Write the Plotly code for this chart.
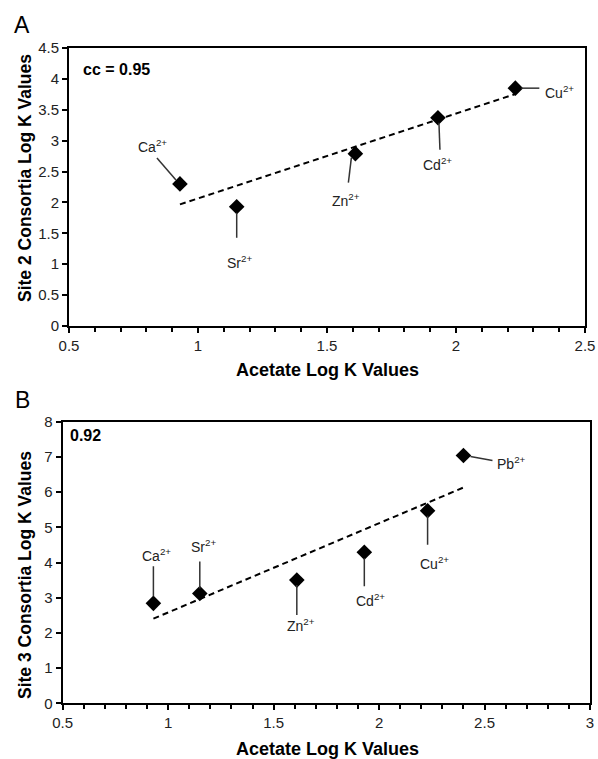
import numpy as np
import plotly.graph_objects as go

W, H = 598, 759

# ---- data ----
ions_a = ["Ca", "Sr", "Zn", "Cd", "Cu"]
acetate_a = [0.93, 1.15, 1.61, 1.93, 2.23]
site2 = [2.30, 1.93, 2.79, 3.37, 3.85]

ions_b = ["Ca", "Sr", "Zn", "Cd", "Cu", "Pb"]
acetate_b = [0.93, 1.15, 1.61, 1.93, 2.23, 2.40]
site3 = [2.84, 3.12, 3.50, 4.29, 5.47, 7.04]

cc_a = "cc = 0.95"
cc_b = "0.92"

# label layout (pixel offsets from the point: leader start/end dx,dy and label dx,dy; y up)
lab_a = {
    "Ca": dict(l=(-4, 4, -23, 26), t=(-27, 38)),
    "Sr": dict(l=(0, -6, 0, -31), t=(3, -55)),
    "Zn": dict(l=(-4, -4, -7, -29), t=(-9, -46)),
    "Cd": dict(l=(1, -5, 2, -32), t=(0, -46)),
    "Cu": dict(l=(6, 0, 24, 0), t=(44, -4)),
}
lab_b = {
    "Ca": dict(l=(0, 7, 0, 37), t=(3, 48)),
    "Sr": dict(l=(0, 5, 0, 32), t=(4, 47)),
    "Zn": dict(l=(0, -5, 0, -35), t=(4, -45)),
    "Cd": dict(l=(0, -6, 0, -34), t=(6, -48)),
    "Cu": dict(l=(0, -5, 0, -34), t=(7, -52)),
    "Pb": dict(l=(7, -1, 29, -5), t=(48, -8)),
}

FONT = "Liberation Sans, Arial, sans-serif"

fig = go.Figure()

def add_panel(xs, ys, xa, ya):
    fig.add_trace(go.Scatter(
        x=xs, y=ys, mode="markers", xaxis=xa, yaxis=ya,
        marker=dict(symbol="diamond", size=12, color="black"),
        showlegend=False, hoverinfo="skip"))
    slope, icpt = np.polyfit(xs, ys, 1)
    lx = np.array([min(xs), max(xs)])
    fig.add_trace(go.Scatter(
        x=lx, y=slope * lx + icpt, mode="lines", xaxis=xa, yaxis=ya,
        line=dict(color="black", width=2, dash="6px,4px"),
        showlegend=False, hoverinfo="skip"))

add_panel(acetate_a, site2, "x", "y")
add_panel(acetate_b, site3, "x2", "y2")

def add_labels(ions, xs, ys, labs, xr, yr):
    for ion, x, y in zip(ions, xs, ys):
        d = labs[ion]
        x0, y0, x1, y1 = d["l"]
        fig.add_shape(type="line", xref=xr, yref=yr,
                      xsizemode="pixel", ysizemode="pixel",
                      xanchor=x, yanchor=y, x0=x0, y0=y0, x1=x1, y1=y1,
                      line=dict(color="#333333", width=1.5))
        fig.add_annotation(x=x, y=y, xref=xr, yref=yr,
                           text=f"{ion}<sup>2+</sup>", showarrow=False,
                           xshift=d["t"][0], yshift=d["t"][1],
                           font=dict(family=FONT, size=14, color="#222222"))

add_labels(ions_a, acetate_a, site2, lab_a, "x", "y")
add_labels(ions_b, acetate_b, site3, lab_b, "x2", "y2")

def px(v):
    return v / W

def py(v):
    return 1 - v / H

axis_common = dict(showline=True, linecolor="black", linewidth=2, mirror=True,
                   showgrid=False, zeroline=False, ticks="outside", ticklen=5,
                   tickcolor="black", tickwidth=1.5, automargin=False,
                   ticklabeloverflow="allow",
                   tickfont=dict(family=FONT, size=15, color="#222222"))

fig.update_layout(
    width=W, height=H, margin=dict(l=0, r=0, t=0, b=0),
    paper_bgcolor="white", plot_bgcolor="white",
    xaxis=dict(domain=[px(69), px(585)], range=[0.5, 2.5], dtick=0.5,
               minor=dict(dtick=0.1, ticks="outside", ticklen=4, tickcolor="black", tickwidth=1.5),
               anchor="y", **axis_common),
    yaxis=dict(domain=[py(326), py(48)], range=[0, 4.5], dtick=0.5, anchor="x",
               **axis_common),
    xaxis2=dict(domain=[px(62.7), px(590)], range=[0.5, 3], dtick=0.5,
                minor=dict(dtick=0.1, ticks="outside", ticklen=4, tickcolor="black", tickwidth=1.5),
                anchor="y2", **axis_common),
    yaxis2=dict(domain=[py(703.3), py(421.7)], range=[0, 8], dtick=1, anchor="x2",
                **axis_common),
)

def paper_text(text, x, y, size, bold=False, angle=0, xanchor="center"):
    fig.add_annotation(xref="paper", yref="paper", x=px(x), y=py(y),
                       text=f"<b>{text}</b>" if bold else text, showarrow=False,
                       textangle=angle, xanchor=xanchor, yanchor="middle",
                       font=dict(family=FONT, size=size, color="black"))

paper_text("A", 22, 25, 23)
paper_text("B", 22, 400, 23)
paper_text(cc_a, 81, 70, 16, bold=True, xanchor="left")
paper_text(cc_b, 68, 435, 16, bold=True, xanchor="left")
paper_text("Acetate Log K Values", 327, 370, 18, bold=True)
paper_text("Acetate Log K Values", 327, 749, 18, bold=True)
paper_text("Site 2 Consortia Log K Values", 25, 178, 17.5, bold=True, angle=-90)
paper_text("Site 3 Consortia Log K Values", 25, 575, 17.5, bold=True, angle=-90)

fig.write_html("out.html",
               config={"displayModeBar": False},
               post_script="document.body.style.margin='0';document.body.style.overflow='hidden';")
